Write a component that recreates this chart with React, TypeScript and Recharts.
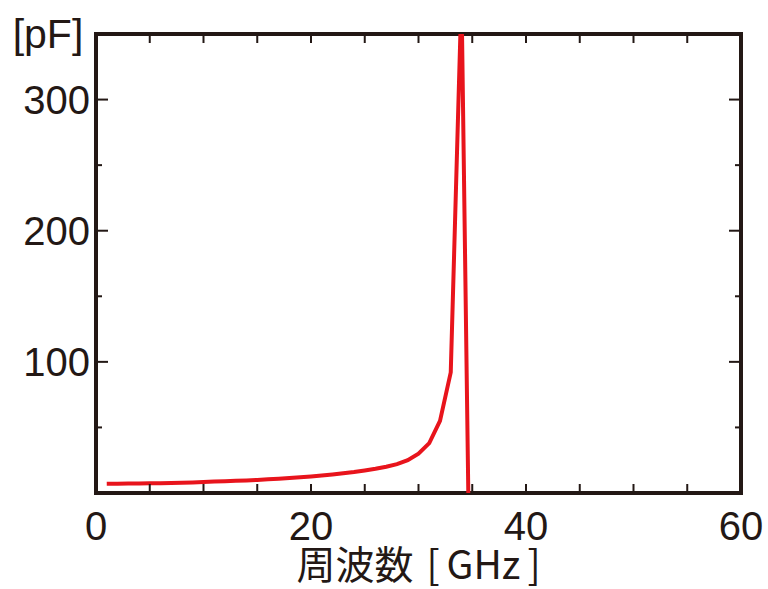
import { Line, LineChart, ReferenceArea, XAxis, YAxis } from 'recharts';

// frequency [GHz] and capacitance [pF]
const FREQ_GHZ = [1, 2, 3, 4, 5, 6, 7, 8, 9, 10, 11, 12, 13, 14, 15, 16, 17, 18, 19, 20, 21, 22, 23, 24, 25, 26, 27, 28, 29, 30, 31, 32, 33, 34, 35];
const CAP_PF = [7.0, 7.1, 7.2, 7.3, 7.4, 7.5, 7.7, 7.9, 8.1, 8.4, 8.7, 9.0, 9.3, 9.6, 10.0, 10.4, 10.9, 11.4, 12.0, 12.6, 13.3, 14.1, 15.0, 16.0, 17.2, 18.5, 20.0, 22.0, 25.0, 30.0, 38.0, 55.0, 92.0, 380, -220];

const X_TICKS = [0, 5, 10, 15, 20, 25, 30, 35, 40, 45, 50, 55, 60];
const Y_TICKS = [0, 50, 100, 150, 200, 250, 300, 350];
const X_LABELS = [0, 20, 40, 60];
const Y_LABELS = [100, 200, 300];

const INK = '#231815';
const RED = '#e8141c';
const FONT = '"Liberation Sans", Arial, sans-serif';
const JP_FONT = '"Noto Sans CJK JP", "Noto Sans", sans-serif';

const data = FREQ_GHZ.map((f, i) => ({ f, c: CAP_PF[i] }));

function BottomTick({ x, y, payload }: any) {
  const v = payload.value;
  return (
    <g>
      <line x1={x} x2={x} y1={y} y2={y - 9} stroke={INK} strokeWidth={2} />
      {X_LABELS.includes(v) && (
        <text x={x} y={y + 47} textAnchor="middle" fontSize={40} fill={INK} fontFamily={FONT}>
          {v}
        </text>
      )}
    </g>
  );
}

function TopTick({ x, y }: any) {
  return <line x1={x} x2={x} y1={y} y2={y + 9} stroke={INK} strokeWidth={2} />;
}

function LeftTick({ x, y, payload }: any) {
  const v = payload.value;
  const len = v % 100 === 0 ? 12 : 6;
  return (
    <g>
      <line x1={x} x2={x + len} y1={y} y2={y} stroke={INK} strokeWidth={2} />
      {Y_LABELS.includes(v) && (
        <text x={x - 6} y={y} dy="0.36em" textAnchor="end" fontSize={40} fill={INK} fontFamily={FONT}>
          {v}
        </text>
      )}
    </g>
  );
}

function RightTick({ x, y, payload }: any) {
  const len = payload.value % 100 === 0 ? 12 : 6;
  return <line x1={x} x2={x - len} y1={y} y2={y} stroke={INK} strokeWidth={2} />;
}

// x-axis title with the wide bracket spacing of the original
function XTitle({ viewBox }: any) {
  const cx = viewBox.x + viewBox.width / 2;
  return (
    <text x={cx} y={579} textAnchor="middle" fontSize={39} fill={INK} fontFamily={JP_FONT}>
      <tspan>周波数</tspan>
      <tspan dx={13}>[</tspan>
      <tspan dx={7}>GHz</tspan>
      <tspan dx={7}>]</tspan>
    </text>
  );
}

export default function App() {
  return (
    <div>
      <style>{'body{margin:0;background:#fff}'}</style>
      <LineChart width={768} height={589} data={data} margin={{ top: 0, right: 0, bottom: 0, left: 0 }}>
        <XAxis
          xAxisId="b"
          dataKey="f"
          type="number"
          domain={[0, 60]}
          ticks={X_TICKS}
          interval={0}
          height={96}
          axisLine={false}
          tickLine={false}
          tickSize={0}
          tickMargin={0}
          tick={BottomTick}
          label={XTitle}
        />
        <XAxis
          xAxisId="t"
          orientation="top"
          dataKey="f"
          type="number"
          domain={[0, 60]}
          ticks={X_TICKS}
          interval={0}
          height={34}
          axisLine={false}
          tickLine={false}
          tickSize={0}
          tickMargin={0}
          tick={TopTick}
        />
        <YAxis
          yAxisId="l"
          type="number"
          domain={[0, 350]}
          allowDataOverflow
          ticks={Y_TICKS}
          interval={0}
          width={96}
          axisLine={false}
          tickLine={false}
          tickSize={0}
          tickMargin={0}
          tick={LeftTick}
          label={{ value: '[pF]', position: 'top', offset: -14, fontSize: 41, fill: INK, fontFamily: FONT }}
        />
        <YAxis
          yAxisId="r"
          orientation="right"
          type="number"
          domain={[0, 350]}
          allowDataOverflow
          ticks={Y_TICKS}
          interval={0}
          width={27}
          axisLine={false}
          tickLine={false}
          tickSize={0}
          tickMargin={0}
          tick={RightTick}
        />
        <Line
          xAxisId="b"
          yAxisId="l"
          type="linear"
          dataKey="c"
          stroke={RED}
          strokeWidth={4}
          dot={false}
          isAnimationActive={false}
        />
        <ReferenceArea
          xAxisId="b"
          yAxisId="l"
          x1={0}
          x2={60}
          y1={0}
          y2={350}
          fill="none"
          stroke={INK}
          strokeWidth={4}
          ifOverflow="visible"
        />
      </LineChart>
    </div>
  );
}
